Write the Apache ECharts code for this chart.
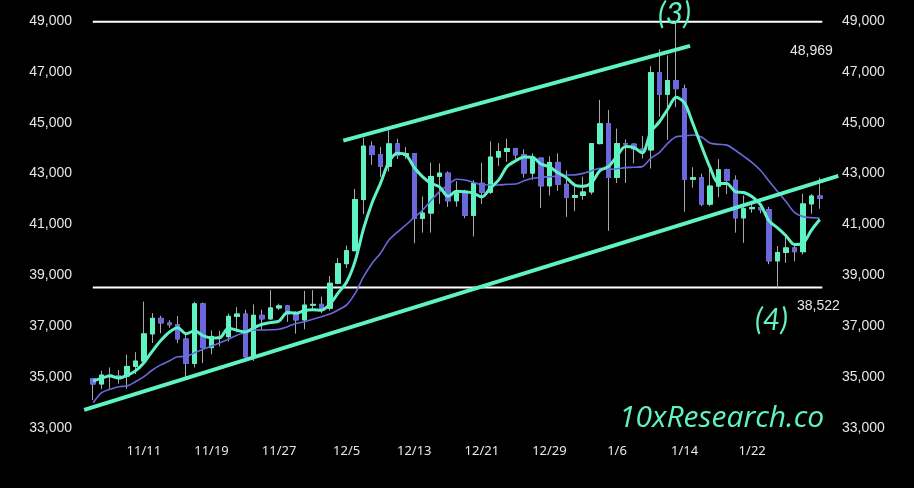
<!DOCTYPE html>
<html>
<head>
<meta charset="utf-8">
<script src="https://cdn.jsdelivr.net/npm/echarts@6/dist/echarts.min.js"></script>
<style>
html,body{margin:0;padding:0;background:#000;}
#c{width:914px;height:488px;}
</style>
</head>
<body>
<div id="c"></div>
<script>
const dates = ['11/5','11/6','11/7','11/8','11/9','11/10','11/11','11/12','11/13','11/14','11/15','11/16','11/17','11/18','11/19','11/20','11/21','11/22','11/23','11/24','11/25','11/26','11/27','11/28','11/29','11/30',
'12/1','12/2','12/3','12/4','12/5','12/6','12/7','12/8','12/9','12/10','12/11','12/12','12/13','12/14','12/15','12/16','12/17','12/18','12/19','12/20','12/21','12/22','12/23','12/24','12/25','12/26','12/27','12/28','12/29','12/30','12/31',
'1/1','1/2','1/3','1/4','1/5','1/6','1/7','1/8','1/9','1/10','1/11','1/12','1/13','1/14','1/15','1/16','1/17','1/18','1/19','1/20','1/21','1/22','1/23','1/24','1/25','1/26','1/27','1/28','1/29','1/30'];

const opens = [34940,34730,35080,35050,35040,35420,35630,36700,37310,37130,37060,36500,35540,37880,36160,36600,36590,37390,37480,35800,37430,37290,37720,37800,37480,37250,37830,37860,37710,38690,39460,39970,41980,44080,43750,43290,44170,43720,43790,41240,41450,42890,43020,41930,42240,41360,42620,42270,43650,43870,43990,43740,43020,43610,42520,43440,42580,42070,42140,42280,44180,44960,42850,44180,44160,43970,43930,46970,46120,46660,46340,42780,42840,41800,42510,43150,42740,41260,41620,41670,41580,39570,39900,40080,39930,41810,42120];
const closes = [34730,35080,35050,35040,35420,35630,36700,37310,37130,37060,36500,35540,37880,36160,36600,36590,37390,37480,35800,37430,37290,37720,37800,37480,37250,37830,37860,37710,38690,39460,39970,41980,44080,43750,43290,44170,43720,43790,41240,41450,42890,43020,41930,42240,41360,42620,42270,43650,43870,43990,43740,43020,43610,42520,43440,42580,42070,42140,42280,44180,44960,42850,44180,44160,43970,43930,46970,46120,46660,46340,42780,42840,41800,42510,43150,42740,41260,41620,41670,41580,39570,39900,40080,39930,41810,42120,42030];
const lows = [34100,34530,34540,34740,34540,35120,35540,36340,36720,36940,36330,34950,35380,35550,35900,36210,36400,36760,35760,35640,36870,37250,37640,37170,36710,36880,37600,37520,37620,38650,39290,39970,41420,43350,42870,43080,43580,43580,40260,40680,40680,41810,41690,41700,41250,40530,41810,42200,43300,43460,43580,42840,42760,41650,42140,42320,41300,41520,41970,42180,44150,40750,42630,42630,43400,43600,43200,45240,44330,45610,41500,42450,41720,41720,42080,42200,40680,40280,41460,41440,39440,38522,39490,39550,39820,41420,41620];
const highs = [34960,35250,35380,35280,35890,35980,37970,37520,37410,37240,37400,36760,37960,37930,36840,36830,37500,37750,37650,37860,37650,38420,37890,37830,37590,38390,38420,38160,38970,39680,40170,42400,44410,44270,44050,44700,44370,44040,43800,42100,43430,43400,43090,42700,42360,42740,43420,44270,44200,44370,44000,43950,43800,43620,43680,43800,43120,42600,42880,44200,45900,45500,44770,44340,44190,44480,47220,47890,47650,48969,46500,43250,43000,43330,43570,43190,42930,42140,41870,41690,41690,40150,40540,40260,42210,42200,42840];

const maFast = [34846,34962,35044,34968,35064,35244,35568,36020,36438,36766,36940,36708,36822,36628,36536,36554,36924,36844,36772,36938,37078,37144,37208,37544,37508,37616,37644,37626,37868,38310,38738,39562,40836,41848,42614,43454,43802,43744,43242,42874,42618,42478,42106,42306,42288,42234,42084,42428,42754,43280,43504,43654,43646,43376,43266,43034,42844,42550,42502,42650,43126,43282,43690,44066,44024,43818,44642,45030,45530,46004,45774,44948,44084,43254,42616,42608,42292,42256,42088,41774,41140,40868,40560,40212,40258,40768,41194];
const maSlow = [33995,34390,34520,34625,34650,34820,35020,35280,35480,35635,35800,35810,35960,36100,36220,36350,36490,36650,36745,36850,36850,36860,36880,36985,37110,37180,37275,37375,37480,37640,37840,38295,38950,39470,39870,40390,40700,40980,41280,41570,41950,42290,42550,42780,42750,42650,42560,42555,42555,42580,42590,42720,42815,42855,42880,42905,42945,42950,43010,43115,43210,43170,43190,43235,43250,43275,43600,43825,44190,44450,44480,44520,44440,44200,44150,44120,43920,43680,43430,43120,42700,42300,41900,41480,41310,41270,41245];

const yTickLabels = [33000,35000,37000,39000,41000,43000,45000,47000,49000];
const xTickLabels = ['11/11','11/19','11/27','12/5','12/13','12/21','12/29','1/6','1/14','1/22'];
const levels = [48969, 38522];
const trendLower = [[-1.07, 33710], [88.2, 42910]];
const trendUpper = [[29.6, 44300], [70.65, 48020]];

const TEAL = '#5ff2c4', PURPLE = '#6b68dc', WICK = '#a8a8a8';

const wickData = dates.map((d, i) => [opens[i], closes[i], lows[i], highs[i]]);
const bodyData = dates.map((d, i) => [opens[i], closes[i], Math.min(opens[i], closes[i]), Math.max(opens[i], closes[i])]);
const n = dates.length;

// main grid geometry
const G = {left: 89, right: 90, top: 21, bottom: 60};
const band = (914 - G.left - G.right) / n;
// wider overlay grid for the trend lines (same scale, more room)
const G2 = {left: 78, right: 66, top: 21, bottom: 60};
const x2min = -0.5 - (G.left - G2.left) / band;
const x2max = n - 0.5 + (G.right - G2.right) / band;

const yLabel = {
  color: '#e6e6e6', fontSize: 14, fontFamily: 'Liberation Sans',
  formatter: v => yTickLabels.indexOf(v) >= 0 ? v.toLocaleString('en-US') : ''
};
const hiddenAxis = {axisLine: {show: false}, axisTick: {show: false}, splitLine: {show: false}, axisLabel: {show: false}};

const chart = echarts.init(document.getElementById('c'), null, {renderer: 'canvas'});
chart.setOption({
  backgroundColor: '#000',
  animation: false,
  grid: [G, G2],
  xAxis: [{
    type: 'category', data: dates, boundaryGap: true, gridIndex: 0,
    axisLine: {show: false}, axisTick: {show: false}, splitLine: {show: false},
    axisLabel: {
      color: '#e6e6e6', fontSize: 13, fontFamily: 'Noto Sans', margin: 17,
      interval: (i, v) => xTickLabels.indexOf(v) >= 0
    }
  }, Object.assign({type: 'value', min: -0.5, max: n - 0.5, gridIndex: 0}, hiddenAxis),
     Object.assign({type: 'value', min: x2min, max: x2max, gridIndex: 1}, hiddenAxis)],
  yAxis: [{
    type: 'value', position: 'left', min: 33000, max: 49000, interval: 1000, gridIndex: 0,
    axisLine: {show: false}, axisTick: {show: false}, splitLine: {show: false},
    axisLabel: Object.assign({margin: 17}, yLabel)
  }, {
    type: 'value', position: 'right', min: 33000, max: 49000, interval: 1000, gridIndex: 0,
    axisLine: {show: false}, axisTick: {show: false}, splitLine: {show: false},
    axisLabel: Object.assign({margin: 18}, yLabel)
  }, Object.assign({type: 'value', min: 33000, max: 49000, gridIndex: 1}, hiddenAxis)],
  series: [
    {
      type: 'line', xAxisIndex: 1, yAxisIndex: 0, data: [[-0.05, levels[0]], [n - 0.7, levels[0]]],
      symbol: 'none', lineStyle: {color: '#ffffff', width: 2}, z: 1, silent: true
    },
    {
      type: 'line', xAxisIndex: 1, yAxisIndex: 0, data: [[-0.05, levels[1]], [n - 0.7, levels[1]]],
      symbol: 'none', lineStyle: {color: '#ffffff', width: 2}, z: 1, silent: true
    },
    {
      type: 'candlestick', data: wickData, barWidth: 5, z: 2,
      itemStyle: {color: WICK, color0: WICK, borderColor: WICK, borderColor0: WICK, borderWidth: 1}
    },
    {
      type: 'candlestick', data: bodyData, barWidth: 5, z: 3,
      itemStyle: {color: TEAL, color0: PURPLE, borderColor: TEAL, borderColor0: PURPLE, borderWidth: 1}
    },
    {
      type: 'line', data: maSlow, smooth: 0.3, symbol: 'none', z: 4,
      lineStyle: {color: PURPLE, width: 1.6}
    },
    {
      type: 'line', data: maFast, smooth: 0.3, symbol: 'none', z: 5,
      lineStyle: {color: TEAL, width: 3}
    },
    {
      type: 'line', xAxisIndex: 2, yAxisIndex: 2, data: trendLower, symbol: 'none', z: 6,
      lineStyle: {color: TEAL, width: 4}
    },
    {
      type: 'line', xAxisIndex: 2, yAxisIndex: 2, data: trendUpper, symbol: 'none', z: 6,
      lineStyle: {color: TEAL, width: 4}
    }
  ],
  graphic: [
    {type: 'text', left: 658, top: -1, z: 10, style: {text: '(3)', fill: TEAL, font: 'italic 30px Lato'}},
    {type: 'text', left: 755, top: 305, z: 10, style: {text: '(4)', fill: TEAL, font: 'italic 30px Lato'}},
    {type: 'text', left: 790, top: 44, z: 10, style: {text: '48,969', fill: '#e6e6e6', font: '14px "Liberation Sans"'}},
    {type: 'text', left: 797, top: 299, z: 10, style: {text: '38,522', fill: '#e6e6e6', font: '14px "Liberation Sans"'}},
    {type: 'text', left: 619, top: 403, z: 10, style: {text: '10xResearch.co', fill: TEAL, font: 'italic 500 30px "Open Sans"'}}
  ]
});
</script>
</body>
</html>
